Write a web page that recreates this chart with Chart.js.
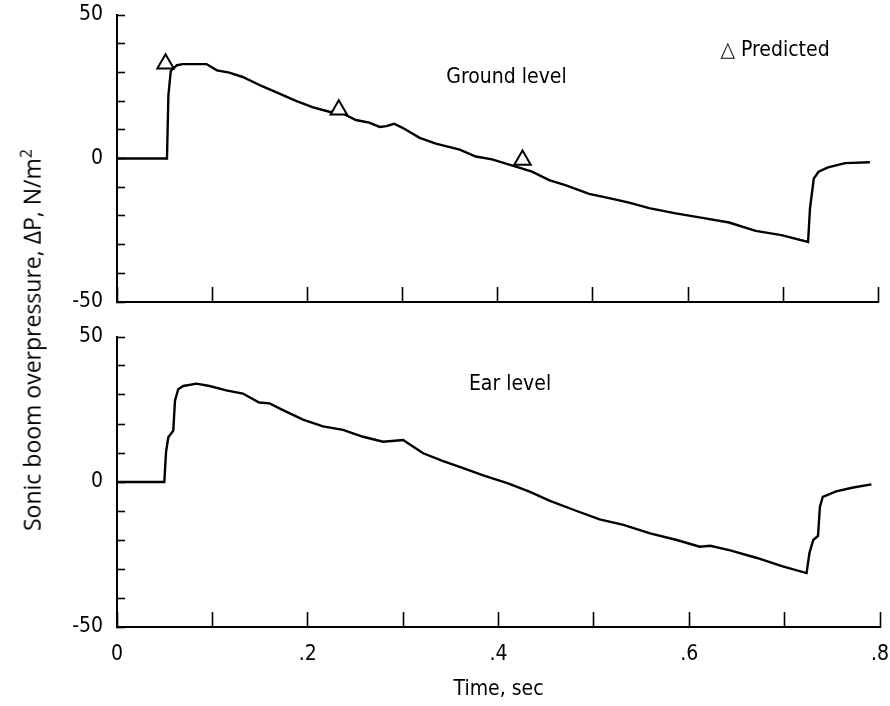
<!DOCTYPE html>
<html>
<head>
<meta charset="utf-8">
<script src="https://cdn.jsdelivr.net/npm/chart.js@4.4.0/dist/chart.umd.min.js"></script>
<style>
  body { margin: 0; background: #fff; }
  #wrap { position: relative; width: 890px; height: 706px; }
  #topBox { position: absolute; left: 0; top: 0; width: 890px; height: 320px; }
  #botBox { position: absolute; left: 0; top: 320px; width: 890px; height: 386px; }
  #yTitle {
    position: absolute; left: 31px; top: 340px;
    transform: translate(-50%, -50%) rotate(-90deg);
    white-space: nowrap; font-family: 'Open Sans', sans-serif; font-size: 23px; color: #000;
  }
  #yTitle sup { font-size: 16px; }
</style>
</head>
<body>
<div id="wrap">
  <div id="topBox"><canvas id="topChart"></canvas></div>
  <div id="botBox"><canvas id="botChart"></canvas></div>
  <div id="yTitle">Sonic boom overpressure, ΔP, N/m<sup>2</sup></div>
</div>
<script>
// ground level trace (time in sec, overpressure in N/m^2)
let groundTime = [0, 0.0525, 0.054, 0.0565, 0.063, 0.069, 0.094, 0.105, 0.118, 0.132, 0.153, 0.167, 0.188, 0.206, 0.223, 0.237, 0.251, 0.265, 0.276, 0.283, 0.291, 0.300, 0.318, 0.335, 0.360, 0.377, 0.394, 0.419, 0.436, 0.454, 0.471, 0.496, 0.517, 0.538, 0.559, 0.587, 0.615, 0.643, 0.671, 0.698, 0.726, 0.728, 0.732, 0.737, 0.747, 0.765, 0.791];
let groundP = [0, 0, 22, 30.5, 32.5, 32.9, 32.9, 30.7, 29.9, 28.4, 25.1, 23.1, 20.1, 17.8, 16.3, 15.7, 13.4, 12.5, 11.0, 11.3, 12.1, 10.7, 7.2, 5.2, 3.1, 0.7, -0.3, -2.8, -4.6, -7.5, -9.3, -12.3, -13.8, -15.4, -17.3, -19.1, -20.7, -22.3, -25.2, -26.7, -29.1, -17.5, -7.0, -4.6, -3.1, -1.6, -1.3];

// predicted values at ground level
let predTime = [0.051, 0.233, 0.426];
let predP = [33, 17, -0.5];

// ear level trace
let earTime = [0, 0.0496, 0.0514, 0.0538, 0.059, 0.0608, 0.0642, 0.0695, 0.0834, 0.097, 0.1146, 0.132, 0.149, 0.160, 0.174, 0.195, 0.216, 0.237, 0.258, 0.279, 0.300, 0.321, 0.342, 0.363, 0.384, 0.41, 0.433, 0.454, 0.482, 0.506, 0.531, 0.559, 0.587, 0.611, 0.622, 0.643, 0.671, 0.698, 0.723, 0.726, 0.730, 0.735, 0.737, 0.740, 0.754, 0.772, 0.791];
let earP = [0, 0, 10.3, 15.4, 17.7, 28, 32, 33.1, 33.9, 33.1, 31.6, 30.5, 27.4, 27.1, 24.8, 21.5, 19.2, 18.0, 15.6, 13.9, 14.5, 9.9, 7.2, 4.8, 2.3, -0.5, -3.4, -6.5, -10.0, -12.9, -14.8, -17.7, -20.0, -22.3, -22.0, -23.6, -26.2, -29.1, -31.4, -24.5, -20, -18.6, -8.6, -5.1, -3.2, -1.9, -0.8];

let yTickLabels = [-50, 0, 50];
let xTickLabels = [0, 0.2, 0.4, 0.6, 0.8];

const FONT = "'DejaVu Sans Condensed', 'Liberation Sans Narrow', sans-serif";

function toPoints(xs, ys) {
	return xs.map((x, i) => ({ x: x, y: ys[i] }));
}

// text labels placed in data coordinates
const notes = {
	topChart: [
		{ text: '\u25B3 Predicted', x: 0.634, y: 37.7 },
		{ text: 'Ground level', x: 0.346, y: 28.2 }
	],
	botChart: [
		{ text: 'Ear level', x: 0.369, y: 33.5 }
	]
};

const notePlugin = {
	id: 'notes',
	afterDatasetsDraw(chart) {
		let list = notes[chart.canvas.id] || [];
		let ctx = chart.ctx;
		ctx.save();
		ctx.fillStyle = '#000';
		ctx.font = '21px ' + FONT;
		ctx.textAlign = 'left';
		ctx.textBaseline = 'middle';
		list.forEach(n => {
			ctx.fillText(n.text, chart.scales.x.getPixelForValue(n.x), chart.scales.y.getPixelForValue(n.y));
		});
		ctx.restore();
	}
};

function makeOptions(isBottom) {
	return {
		responsive: true,
		maintainAspectRatio: false,
		animation: false,
		events: [],
		layout: { padding: { top: isBottom ? 17 : 15, right: 10, left: 0, bottom: 0 } },
		plugins: { legend: { display: false }, tooltip: { enabled: false } },
		scales: {
			x: {
				type: 'linear',
				min: 0,
				max: 0.8,
				border: { color: '#000', width: 2 },
				grid: { drawOnChartArea: false, tickLength: -15, tickColor: '#000', tickWidth: 1.6 },
				ticks: {
					display: isBottom,
					stepSize: 0.1,
					padding: 30,
					color: '#000',
					font: { family: FONT, size: 21 },
					maxRotation: 0,
					autoSkip: false,
					callback: function(v) {
						let k = Math.round(v * 10) / 10;
						if (!xTickLabels.some(t => Math.abs(t - k) < 1e-6)) return '';
						return k === 0 ? '0' : String(k).replace('0.', '.');
					}
				},
				title: {
					display: isBottom,
					text: 'Time, sec',
					color: '#000',
					font: { family: FONT, size: 21 },
					padding: { top: 0, bottom: 4 }
				},
				afterFit: function(scale) {
					scale.height = isBottom ? 79 : 18;
					scale.paddingLeft = 0;
					scale.paddingRight = 0;
				}
			},
			y: {
				min: -50,
				max: 50,
				border: { color: '#000', width: 2 },
				grid: { drawOnChartArea: false, tickLength: -8, tickColor: '#000', tickWidth: 1.6 },
				ticks: {
					stepSize: 10,
					padding: 22,
					color: '#000',
					font: { family: FONT, size: 21 },
					callback: function(v) {
						return yTickLabels.includes(v) ? String(v) : '';
					}
				},
				afterFit: function(scale) {
					scale.width = 117;
					scale.paddingTop = 10;
					scale.paddingBottom = 10;
				}
			}
		}
	};
}

const lineStyle = {
	borderColor: '#000',
	borderWidth: 2.4,
	pointRadius: 0,
	tension: 0,
	fill: false
};

new Chart('topChart', {
	type: 'line',
	data: {
		datasets: [
			{ label: 'Predicted', data: toPoints(predTime, predP), showLine: false,
				pointStyle: 'triangle', pointRadius: 9.5, borderColor: '#000', backgroundColor: '#fff',
				borderWidth: 2, order: 0 },
			Object.assign({ label: 'Ground level', data: toPoints(groundTime, groundP), order: 1 }, lineStyle)
		]
	},
	options: makeOptions(false),
	plugins: [notePlugin]
});

new Chart('botChart', {
	type: 'line',
	data: {
		datasets: [
			Object.assign({ label: 'Ear level', data: toPoints(earTime, earP) }, lineStyle)
		]
	},
	options: makeOptions(true),
	plugins: [notePlugin]
});
</script>
</body>
</html>
